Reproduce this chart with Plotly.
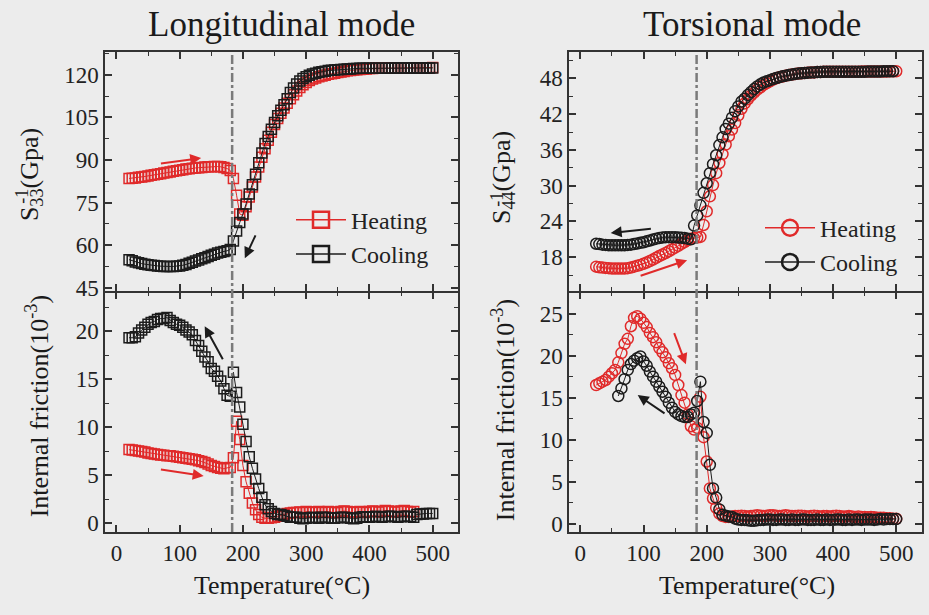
import plotly.graph_objects as go

# ---------------- data (temperature step 5 °C) ----------------
LT_HEAT_START = 20   # Longitudinal, S33^-1, heating
LT_heat = [83.5, 83.6, 83.7, 83.9, 84.0, 84.2, 84.4, 84.6, 84.8, 85.0,
           85.2, 85.4, 85.6, 85.8, 86.0, 86.2, 86.4, 86.6, 86.8, 86.9,
           87.1, 87.2, 87.3, 87.4, 87.5, 87.6, 87.6, 87.7, 87.7, 87.6,
           87.4, 87.0, 86.3,
           83.5, 77.6, 71.0, 70.5, 73.5, 77.0, 80.5, 84.0, 87.5, 91.0,
           94.0, 97.0, 99.8, 102.5, 104.6, 106.5, 108.3, 110.0, 111.6, 113.0,
           114.3, 115.5, 116.5, 117.3, 118.0, 118.5, 118.9, 119.3, 119.6, 119.9,
           120.2, 120.4, 120.6, 120.8, 121.0, 121.2, 121.4, 121.5, 121.7, 121.8,
           121.9, 122.0, 122.1, 122.2, 122.2, 122.3, 122.3, 122.3, 122.4, 122.4,
           122.4, 122.4, 122.4, 122.4, 122.5, 122.5, 122.5, 122.5, 122.5, 122.5,
           122.5, 122.5, 122.5, 122.6]
LT_COOL_START = 20
LT_cool = [54.9, 54.5, 54.1, 53.8, 53.5, 53.3, 53.1, 52.9, 52.8, 52.7,
           52.6, 52.5, 52.5, 52.5, 52.5, 52.6, 52.7, 52.9, 53.2, 53.6,
           54.0, 54.4, 54.8, 55.2, 55.6, 56.0, 56.4, 56.8, 57.2, 57.5,
           57.8, 58.0, 58.5,
           61.5, 65.0, 68.0, 71.0, 74.5, 78.0, 81.3, 85.0, 89.0, 92.5,
           95.8, 98.3, 100.8, 103.2, 105.6, 107.5, 109.5, 111.6, 113.8, 115.4,
           116.8, 117.8, 118.7, 119.3, 119.9, 120.3, 120.6, 120.9, 121.1, 121.3,
           121.5, 121.6, 121.7, 121.8, 121.9, 122.0, 122.1, 122.1, 122.2, 122.2,
           122.3, 122.3, 122.3, 122.3, 122.3, 122.3, 122.3, 122.3, 122.3, 122.3,
           122.3, 122.4, 122.4, 122.4, 122.4, 122.4, 122.4, 122.4, 122.4, 122.4,
           122.4, 122.4, 122.4, 122.4]
LB_HEAT_START = 20   # Longitudinal, internal friction, heating
LB_heat = [7.65, 7.6, 7.55, 7.5, 7.45, 7.4, 7.3, 7.25, 7.2, 7.15,
           7.1, 7.05, 7.0, 7.0, 6.95, 6.9, 6.85, 6.8, 6.75, 6.7,
           6.65, 6.6, 6.5, 6.4, 6.3, 6.15, 6.0, 5.9, 5.8, 5.7,
           5.65, 5.75, 5.8,
           6.8, 10.6, 8.7, 6.0, 4.3, 3.1, 2.1, 1.4, 0.9, 0.6,
           0.5, 0.5, 0.55, 0.6, 0.7, 0.8, 0.9, 1.0, 1.05, 1.1,
           1.1, 1.15, 1.1, 1.2, 1.15, 1.1, 1.15, 1.2, 1.1, 1.15,
           1.2, 1.15, 1.1, 1.1, 1.2, 1.25, 1.2, 1.15, 1.1, 1.15,
           1.2, 1.15, 1.1, 1.2, 1.25, 1.2, 1.15, 1.2, 1.3, 1.25,
           1.2, 1.15, 1.2, 1.25, 1.3, 1.2, 1.15, 1.2]
LB_COOL_START = 20
LB_cool = [19.3, 19.3, 19.4, 19.8, 20.1, 20.4, 20.7, 20.9, 21.0, 21.2,
           21.3, 21.3, 21.4, 21.1, 20.9, 20.7, 20.6, 20.4, 20.1, 19.9,
           19.6, 19.0, 18.5, 17.9, 17.3, 16.8, 16.1, 15.8, 15.3, 14.8,
           14.0, 13.3, 13.2,
           15.7, 13.6, 12.1, 10.3, 8.5, 6.9, 5.7, 4.6, 3.6, 2.7,
           1.9, 1.5, 1.2, 1.0, 0.9, 0.9, 0.8, 0.7, 0.6, 0.6,
           0.6, 0.5, 0.45, 0.5, 0.55, 0.6, 0.55, 0.5, 0.6, 0.6,
           0.55, 0.5, 0.5, 0.55, 0.6, 0.6, 0.55, 0.5, 0.45, 0.5,
           0.6, 0.65, 0.6, 0.6, 0.65, 0.7, 0.65, 0.6, 0.65, 0.7,
           0.7, 0.65, 0.6, 0.65, 0.7, 0.7, 0.65, 0.6,
           0.9, 0.95, 0.95, 1.0, 1.0, 1.0]
RT_HEAT_START = 25   # Torsional, S44^-1, heating
RT_heat = [16.4, 16.3, 16.25, 16.2, 16.15, 16.1, 16.1, 16.1, 16.1, 16.1,
           16.15, 16.25, 16.4, 16.55, 16.7, 16.9, 17.1, 17.35, 17.6, 17.9,
           18.2, 18.45, 18.7, 19.0, 19.3, 19.6, 19.9, 20.25, 20.55, 20.85,
           21.1, 21.2, 21.3,
           21.4, 23.4, 25.7, 28.2, 30.1, 32.1, 33.8, 35.3, 36.9, 38.3,
           39.4, 40.5, 41.8, 42.9, 43.8, 44.5, 45.1, 45.6, 46.1, 46.5,
           46.9, 47.2, 47.5, 47.8, 48.0, 48.2, 48.3, 48.45, 48.55, 48.65,
           48.75, 48.8, 48.85, 48.9, 48.95, 49.0, 49.0, 49.05, 49.05, 49.1,
           49.1, 49.1, 49.1, 49.1, 49.1, 49.1, 49.1, 49.1, 49.1, 49.1,
           49.1, 49.15, 49.15, 49.15, 49.15, 49.15, 49.15, 49.15, 49.15, 49.15,
           49.2, 49.2, 49.2]
RT_COOL_START = 25
RT_cool = [20.25, 20.2, 20.1, 20.05, 20.0, 20.0, 20.0, 20.0, 20.0, 20.0,
           20.05, 20.1, 20.2, 20.3, 20.4, 20.5, 20.65, 20.8, 20.95, 21.1,
           21.2, 21.3, 21.35, 21.35, 21.35, 21.35, 21.3, 21.25, 21.2, 21.1,
           21.0,
           23.3, 25.0, 26.7, 28.8, 30.4, 32.1, 33.6, 35.1, 36.8, 38.1,
           39.5, 40.4, 41.4, 42.5, 43.3, 44.1, 44.6, 45.2, 45.7, 46.2,
           46.65, 47.0, 47.3, 47.5, 47.7, 47.9, 48.05, 48.2, 48.35, 48.45,
           48.55, 48.65, 48.75, 48.8, 48.85, 48.9, 48.95, 49.0, 49.0, 49.05,
           49.05, 49.1, 49.1, 49.1, 49.1, 49.1, 49.1, 49.1, 49.1, 49.1,
           49.1, 49.1, 49.1, 49.1, 49.1, 49.15, 49.15, 49.15, 49.15, 49.15,
           49.2, 49.2, 49.2, 49.2]
RB_HEAT_START = 25   # Torsional, internal friction, heating
RB_heat = [16.5, 16.7, 16.9, 17.1, 17.5, 17.9, 18.3, 19.2, 20.3, 21.4,
           22.0, 23.5, 24.5, 24.7, 24.4, 23.9, 23.4, 22.7, 22.2, 21.6,
           20.9, 20.4, 19.8, 19.1, 18.5, 17.7, 16.5, 15.3, 14.4, 13.0,
           11.6, 11.2, 11.4,
           15.1, 10.3, 7.4, 4.2, 3.0, 1.9, 1.2, 0.9, 0.8, 0.8,
           0.85, 0.9, 0.9, 0.95, 0.9, 0.85, 0.9, 0.95, 1.0, 0.95,
           0.9, 0.95, 1.0, 1.0, 0.95, 0.9, 0.95, 1.0, 0.95, 0.9,
           0.9, 0.95, 0.95, 0.9, 0.85, 0.9, 0.95, 0.9, 0.85, 0.9,
           0.9, 0.85, 0.9, 0.95, 0.9, 0.85, 0.85, 0.9, 0.85, 0.8,
           0.85, 0.8, 0.8, 0.75, 0.8, 0.75, 0.7, 0.7, 0.7, 0.65,
           0.65, 0.6, 0.6]
RB_COOL_START = 60
RB_cool = [15.2, 16.1, 17.2, 18.3, 19.0, 19.4, 19.7, 19.9, 19.3, 18.8,
           18.1, 17.5, 16.9, 16.3, 15.7, 15.1, 14.4, 13.8, 13.3, 13.0,
           12.8, 12.7, 12.7, 13.0, 13.2, 14.6,
           16.9, 12.1, 10.8, 7.0, 4.2, 3.1, 1.7, 1.05, 0.95, 0.85,
           0.8, 0.6, 0.5, 0.45, 0.45, 0.4, 0.35, 0.35, 0.4, 0.45,
           0.45, 0.5, 0.5, 0.45, 0.45, 0.5, 0.5, 0.45, 0.45, 0.5,
           0.45, 0.45, 0.5, 0.5, 0.45, 0.45, 0.45, 0.5, 0.45, 0.45,
           0.5, 0.45, 0.45, 0.5, 0.5, 0.45, 0.45, 0.5, 0.45, 0.5,
           0.5, 0.45, 0.5, 0.5, 0.5, 0.45, 0.5, 0.55, 0.5, 0.55,
           0.55, 0.55, 0.55]

T_STEP = 5
TRANSITION_T = [183, 184]          # dash-dot line, left / right panel
X_TICKS = [0, 100, 200, 300, 400, 500]

# arrows: (tail_x, tail_y, head_x, head_y, colour key)
ARROWS_LT = [(68, 88.7, 134, 90.7, "red"), (221, 64, 203, 55.4, "black")]
ARROWS_LB = [(169.5, 16.9, 139.6, 20.5, "black"), (68, 5.6, 138, 4.9, "red")]
ARROWS_RT = [(114, 22.8, 48, 22.06, "black"), (93, 14.8, 169, 17.5, "red")]
ARROWS_RB = [(147.6, 22.85, 167, 18.96, "red"), (135.6, 13.0, 90.7, 15.3, "black")]


def temps(start, vals):
    return [start + T_STEP * i for i in range(len(vals))]


# ---------------- style ----------------
W, H = 929, 615           # reference frame used for placing things (paper fractions)
BG = "#ececec"
RED = "#e02a2a"
BLK = "#1c1c1c"
COL = {"red": RED, "black": BLK}
FONT = "Liberation Serif"
AX = "#333333"
LW = 1.5

# plot areas in pixels of the reference
LX0, LX1 = 105, 458
RX0, RX1 = 569, 921.5
YTOP, YMID, YBOT = 53, 296.7, 540.7


def px(v):
    return v / W


def py(v):
    return (H - v) / H


fig = go.Figure()


def add_series(xname, yname, start, vals, color, symbol, size):
    fig.add_trace(go.Scatter(
        x=temps(start, vals), y=vals, xaxis=xname, yaxis=yname,
        mode="lines+markers", showlegend=False, hoverinfo="skip",
        line=dict(color=color, width=1),
        marker=dict(symbol=symbol, size=size, color=color,
                    line=dict(color=color, width=1.5)),
    ))


add_series("x2", "y2", LT_HEAT_START, LT_heat, RED, "square-open", 10)
add_series("x2", "y2", LT_COOL_START, LT_cool, BLK, "square-open", 10)
add_series("x", "y", LB_HEAT_START, LB_heat, RED, "square-open", 10)
add_series("x", "y", LB_COOL_START, LB_cool, BLK, "square-open", 10)
add_series("x4", "y4", RT_HEAT_START, RT_heat, RED, "circle-open", 11)
add_series("x4", "y4", RT_COOL_START, RT_cool, BLK, "circle-open", 11)
add_series("x3", "y3", RB_HEAT_START, RB_heat, RED, "circle-open", 11)
add_series("x3", "y3", RB_COOL_START, RB_cool, BLK, "circle-open", 11)

# legend entries
for name, color, sym, leg, xa, ya in [
        ("Heating", RED, "square-open", "legend", "x2", "y2"),
        ("Cooling", BLK, "square-open", "legend", "x2", "y2"),
        ("Heating", RED, "circle-open", "legend2", "x4", "y4"),
        ("Cooling", BLK, "circle-open", "legend2", "x4", "y4")]:
    fig.add_trace(go.Scatter(
        x=[None], y=[None], xaxis=xa, yaxis=ya, name=name, legend=leg,
        mode="lines+markers", line=dict(color=color, width=1.5),
        marker=dict(symbol=sym, size=16, color=color, line=dict(color=color, width=2.5)),
    ))

tickfont = dict(family=FONT, size=23, color="#222")


def xaxis(domain, anchor, labels, match=None):
    d = dict(domain=domain, anchor=anchor, range=[-18, 540],
             tickvals=X_TICKS, ticks="inside", ticklen=7, tickwidth=1.5, tickcolor=AX,
             minor=dict(ticks="inside", ticklen=4, tickwidth=1.2, tickcolor=AX, dtick=50, tick0=0),
             showline=True, linewidth=LW, linecolor=AX, mirror="ticks",
             showgrid=False, zeroline=False, showticklabels=labels, tickfont=tickfont)
    if match:
        d["matches"] = match
    return d


def yaxis(domain, anchor, rng, dtick):
    return dict(domain=domain, anchor=anchor, range=rng, dtick=dtick, tick0=0,
                ticks="inside", ticklen=7, tickwidth=1.5, tickcolor=AX,
                minor=dict(ticks="inside", ticklen=4, tickwidth=1.2, tickcolor=AX,
                           dtick=dtick / 2, tick0=0),
                showline=True, linewidth=LW, linecolor=AX, mirror="ticks",
                showgrid=False, zeroline=False, tickfont=tickfont)


ldom = [px(LX0), px(LX1)]
rdom = [px(RX0), px(RX1)]
# axis lines are drawn outside the domain: leave half a line width each side
bdom = [py(YBOT), py(YMID + LW / 2)]
tdom = [py(YMID - LW / 2), py(YTOP)]

fig.update_layout(
    autosize=True,
    margin=dict(l=0, r=0, t=0, b=0),
    paper_bgcolor=BG, plot_bgcolor=BG,
    font=dict(family=FONT, color="#222"),
    xaxis=xaxis(ldom, "y", True),
    xaxis2=xaxis(ldom, "y2", False, "x"),
    xaxis3=xaxis(rdom, "y3", True),
    xaxis4=xaxis(rdom, "y4", False, "x3"),
    yaxis=yaxis(bdom, "x", [-0.92, 24], 5),
    yaxis2=yaxis(tdom, "x2", [43.8, 128], 15),
    yaxis3=yaxis(bdom, "x3", [-0.98, 27.5], 5),
    yaxis4=yaxis(tdom, "x4", [12.3, 52.4], 6),
    legend=dict(x=px(291), y=py(201), xanchor="left", yanchor="top",
                bgcolor="rgba(0,0,0,0)", font=dict(family=FONT, size=24, color="#222"),
                itemwidth=50, tracegroupgap=0),
    legend2=dict(x=px(760), y=py(209), xanchor="left", yanchor="top",
                 bgcolor="rgba(0,0,0,0)", font=dict(family=FONT, size=24, color="#222"),
                 itemwidth=50, tracegroupgap=0),
    hovermode=False,
)

# dash-dot transition lines
for xr, xv in [("x", TRANSITION_T[0]), ("x3", TRANSITION_T[1])]:
    fig.add_shape(type="line", xref=xr, yref="paper", x0=xv, x1=xv,
                  y0=py(YBOT), y1=py(YTOP),
                  line=dict(color="#7a7a7a", width=2.5, dash="dashdot"))

# arrows
for arrows, xr, yr in [(ARROWS_LT, "x2", "y2"), (ARROWS_LB, "x", "y"),
                       (ARROWS_RT, "x4", "y4"), (ARROWS_RB, "x3", "y3")]:
    for tx, ty, hx, hy, c in arrows:
        fig.add_annotation(x=hx, y=hy, ax=tx, ay=ty, xref=xr, yref=yr, axref=xr, ayref=yr,
                           text="", showarrow=True, arrowhead=2, arrowsize=1.1,
                           arrowwidth=2, arrowcolor=COL[c])

# titles
big = dict(family=FONT, size=35, color="#1a1a1a")
lab = dict(family=FONT, size=26, color="#1a1a1a")
fig.add_annotation(text="Longitudinal mode", x=px(281), y=py(25), xref="paper", yref="paper",
                   showarrow=False, font=big, xanchor="center", yanchor="middle")
fig.add_annotation(text="Torsional mode", x=px(752), y=py(25), xref="paper", yref="paper",
                   showarrow=False, font=big, xanchor="center", yanchor="middle")
for xc in (282, 747):
    fig.add_annotation(text="Temperature(°C)", x=px(xc), y=py(595), xref="paper", yref="paper",
                       showarrow=False, font=lab, xanchor="center", yanchor="middle")

# y titles
for txt, xc, yc in [("S<sub>33</sub>(Gpa)", 31, 177), ("S<sub>44</sub>(Gpa)", 503, 181),
                    ("Internal friction(10<sup>-3</sup>)", 37, 413),
                    ("Internal friction(10<sup>-3</sup>)", 503, 417)]:
    fig.add_annotation(text=txt, x=px(xc), y=py(yc), xref="paper", yref="paper",
                       showarrow=False, font=lab, textangle=-90,
                       xanchor="center", yanchor="middle")
for xc, yc in [(22, 200), (497, 203)]:
    fig.add_annotation(text="-1", x=px(xc), y=py(yc), xref="paper", yref="paper",
                       showarrow=False, font=dict(family=FONT, size=18, color="#1a1a1a"),
                       textangle=-90, xanchor="center", yanchor="middle")

POST = ("var d=document.getElementById('{plot_id}');"
        "d.style.position='fixed';d.style.left='0px';d.style.top='0px';"
        "document.body.style.margin='0';document.body.style.background='" + BG + "';"
        "document.body.style.overflow='hidden';"
        "document.documentElement.style.overflow='hidden';"
        "if(window.Plotly){Plotly.Plots.resize(d);}")
fig.write_html("out.html", config={"displayModeBar": False, "responsive": True},
               default_width="100vw", default_height="100vh", post_script=POST)
